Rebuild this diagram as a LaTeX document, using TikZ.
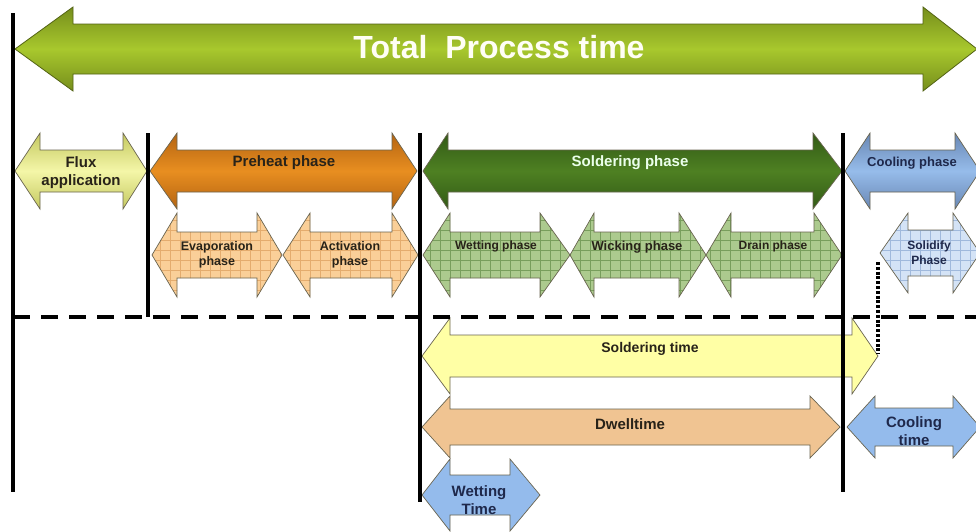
\documentclass[tikz,border=0pt]{standalone}
\usepackage{fontspec}
\setmainfont{Liberation Sans}
\definecolor{totDark}{RGB}{118,142,28}
\definecolor{totLight}{RGB}{168,200,45}
\definecolor{fluxLight}{RGB}{244,246,168}
\definecolor{fluxDark}{RGB}{196,200,96}
\definecolor{preLight}{RGB}{232,142,32}
\definecolor{preDark}{RGB}{180,100,18}
\definecolor{solLight}{RGB}{78,128,34}
\definecolor{solDark}{RGB}{50,90,22}
\definecolor{coolLight}{RGB}{150,188,234}
\definecolor{coolDark}{RGB}{105,135,180}
\definecolor{evapFill}{RGB}{250,207,152}
\definecolor{evapGrid}{RGB}{228,172,110}
\definecolor{grFill}{RGB}{172,202,142}
\definecolor{grGrid}{RGB}{120,158,92}
\definecolor{sdFill}{RGB}{212,227,246}
\definecolor{sdGrid}{RGB}{160,185,220}
\definecolor{stFill}{RGB}{255,255,165}
\definecolor{dwFill}{RGB}{240,196,146}
\definecolor{btFill}{RGB}{148,187,236}
\definecolor{txtDark}{RGB}{40,35,25}
\definecolor{txtNavy}{RGB}{30,40,75}
\definecolor{edgeCol}{RGB}{105,100,80}
% double arrow: #1 left tip x, #2 left head base x, #3 right head base x, #4 right tip x,
% #5 centre y, #6 head half height, #7 shaft half height, #8 style
\newcommand{\dbl}[8]{%
  \path[#8] (#1,#5) -- (#2,{#5-#6}) -- (#2,{#5-#7}) -- (#3,{#5-#7}) -- (#3,{#5-#6})
    -- (#4,#5) -- (#3,{#5+#6}) -- (#3,{#5+#7}) -- (#2,{#5+#7}) -- (#2,{#5+#6}) -- cycle;}
\newcommand{\dblgrid}[9]{%
  \dbl{#1}{#2}{#3}{#4}{#5}{#6}{#7}{fill=#8}
  \begin{scope}
    \clip (#1,#5) -- (#2,{#5-#6}) -- (#2,{#5-#7}) -- (#3,{#5-#7}) -- (#3,{#5-#6})
    -- (#4,#5) -- (#3,{#5+#6}) -- (#3,{#5+#7}) -- (#2,{#5+#7}) -- (#2,{#5+#6}) -- cycle;
    \draw[#9, line width=0.35pt, step=10pt] (#1,{#5-#6}) grid (#4,{#5+#6});
  \end{scope}
  \dbl{#1}{#2}{#3}{#4}{#5}{#6}{#7}{draw=edgeCol, line width=0.7pt}}
\tikzset{
  lbl/.style={font=\bfseries\fontsize{15}{18}\selectfont, text=txtDark, align=center, inner sep=0pt},
  lblsmall/.style={lbl, font=\bfseries\fontsize{12.5}{15}\selectfont},
  edge/.style={draw=edgeCol, line width=0.7pt},
  vline/.style={line width=4pt, black},
}
\begin{document}
\begin{tikzpicture}[x=1pt, y=-1pt]
\useasboundingbox (0,0) rectangle (976,531);
\fill[white] (0,0) rectangle (976,531);
\clip (0,0) rectangle (976,531);

% total process time
\dbl{15}{73}{923}{977}{49}{42}{25}{top color=totDark, bottom color=totDark, middle color=totLight, draw=totDark!70!black, line width=0.8pt}
\node[lbl, font=\bfseries\fontsize{32}{36}\selectfont, text=white!96!yellow] (ttotal) at (499,47) {Total\ \ Process time};

% row 1
\dbl{15}{40}{123}{147}{171}{38}{21}{top color=fluxDark, bottom color=fluxDark, middle color=fluxLight, edge}
\dbl{150}{177}{392}{417}{171}{38}{21}{top color=preDark, bottom color=preDark, middle color=preLight, edge}
\dbl{423}{448}{813}{842}{171}{38}{21}{top color=solDark, bottom color=solDark, middle color=solLight, edge}
\dbl{845}{870}{955}{980}{171}{38}{21}{top color=coolDark, bottom color=coolDark, middle color=coolLight, edge}
\node[lbl] (tflux) at (81,173) {Flux\\application};
\node[lbl] (tpre) at (284,163) {Preheat phase};
\node[lbl, text=white!92!green] (tsol) at (630,163) {Soldering phase};
\node[lbl, font=\bfseries\fontsize{13}{15}\selectfont, text=txtNavy] (tcool) at (912,163) {Cooling phase};

% row 2
\dblgrid{152}{177}{257}{282}{255}{42}{23}{evapFill}{evapGrid}
\dblgrid{283}{310}{392}{418}{255}{42}{23}{evapFill}{evapGrid}
\dblgrid{423}{450}{540}{570}{255}{42}{23}{grFill}{grGrid}
\dblgrid{570}{594}{679}{706}{255}{42}{23}{grFill}{grGrid}
\dblgrid{706}{731}{814}{842}{255}{42}{23}{grFill}{grGrid}
\dblgrid{880}{908}{953}{980}{253}{40}{23}{sdFill}{sdGrid}
\node[lblsmall] (tevap) at (217,255) {Evaporation\\phase};
\node[lblsmall] (tact) at (350,255) {Activation\\phase};
\node[lblsmall, font=\bfseries\fontsize{12}{14}\selectfont] (twetp) at (496,246) {Wetting phase};
\node[lblsmall, font=\bfseries\fontsize{13}{15}\selectfont] (twick) at (637,247) {Wicking phase};
\node[lblsmall, font=\bfseries\fontsize{12}{14}\selectfont] (tdrain) at (773,246) {Drain phase};
\node[lblsmall, font=\bfseries\fontsize{12}{15}\selectfont, text=txtNavy] (tsolid) at (929,253) {Solidify\\Phase};

% row 3
\dbl{422}{450}{852}{878}{356}{38}{21}{fill=stFill, edge}
\dbl{422}{450}{810}{840}{427}{31}{18}{fill=dwFill, edge}
\dbl{847}{875}{953}{980}{427}{31}{19}{fill=btFill, edge}
\dbl{422}{450}{510}{540}{495}{36}{20}{fill=btFill, edge}
\node[lbl, font=\bfseries\fontsize{14}{16}\selectfont] (tstime) at (650,349) {Soldering time};
\node[lbl] (tdwell) at (630,424) {Dwelltime};
\node[lbl, text=txtNavy] (tctime) at (914,431) {Cooling\\time};
\node[lbl, text=txtNavy] (twtime) at (479,500) {Wetting\\Time};

% frame lines
\coordinate (l1t) at (13,13);  \coordinate (l1b) at (13,492);
\coordinate (l2t) at (148,133); \coordinate (l2b) at (148,317);
\coordinate (l3t) at (420,133); \coordinate (l3b) at (420,502);
\coordinate (l4t) at (843,133); \coordinate (l4b) at (843,492);
\coordinate (dl) at (13,317); \coordinate (dr) at (976,317);
\coordinate (dott) at (878,262); \coordinate (dotb) at (878,354);
\draw[vline] (l1t) -- (l1b);
\draw[vline] (l2t) -- (l2b);
\draw[vline] (l3t) -- (l3b);
\draw[vline] (l4t) -- (l4b);
\draw[line width=4pt, dash pattern=on 17pt off 11pt] (dl) -- (dr);
\draw[line width=3.5pt, dash pattern=on 3pt off 1.8pt] (dott) -- (dotb);
\end{tikzpicture}
\end{document}
